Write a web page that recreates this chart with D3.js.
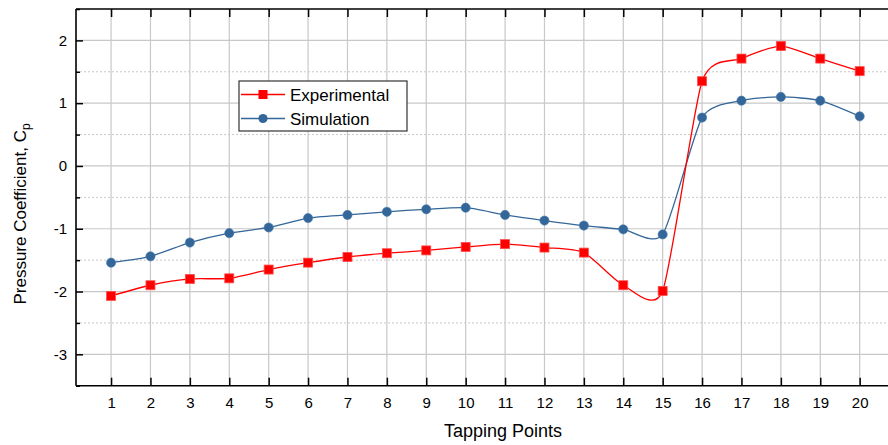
<!DOCTYPE html>
<html>
<head>
<meta charset="utf-8">
<script src="https://cdn.jsdelivr.net/npm/d3@7"></script>
<style>
  html, body { margin: 0; padding: 0; background: #fff; }
  svg { display: block; font-family: "Liberation Sans", Arial, sans-serif; }
</style>
</head>
<body>
<svg id="chart" width="888" height="445"></svg>
<script>
// Tapping point indices along the model surface
const tappingPoints = [1, 2, 3, 4, 5, 6, 7, 8, 9, 10, 11, 12, 13, 14, 15, 16, 17, 18, 19, 20];
// Measured pressure coefficients
const experimental = [-2.07, -1.90, -1.80, -1.79, -1.65, -1.54, -1.45, -1.39, -1.345, -1.29,
                      -1.245, -1.30, -1.38, -1.90, -1.99, 1.35, 1.71, 1.91, 1.71, 1.51];
// CFD pressure coefficients
const simulation = [-1.54, -1.44, -1.22, -1.07, -0.98, -0.83, -0.78, -0.73, -0.69, -0.665,
                    -0.78, -0.87, -0.95, -1.01, -1.09, 0.77, 1.04, 1.10, 1.04, 0.79];
const yTicks = [-3, -2, -1, 0, 1, 2];
const yMinor = [-3.5, -2.5, -1.5, -0.5, 0.5, 1.5, 2.5];

const svg = d3.select("#chart");
const plotLeft = 76, plotTop = 9, plotBottom = 385.7;

const x = d3.scaleLinear().domain([0.11, 20.9]).range([plotLeft, plotLeft + 20.79 * 39.4]);
const y = d3.scaleLinear().domain([-3.5, 2.5]).range([plotBottom, plotTop]);

const gridColor = "#c8c8c8";

// grid
const grid = svg.append("g");
grid.selectAll(".vg").data(tappingPoints).join("line")
  .attr("x1", d => x(d)).attr("x2", d => x(d))
  .attr("y1", plotTop).attr("y2", plotBottom)
  .attr("stroke", gridColor).attr("stroke-width", 1.2);
grid.selectAll(".hg").data(yTicks).join("line")
  .attr("x1", plotLeft).attr("x2", 888)
  .attr("y1", d => y(d)).attr("y2", d => y(d))
  .attr("stroke", gridColor).attr("stroke-width", 1.2);
grid.selectAll(".hm").data(yMinor.filter(v => v > -3.5 && v < 2.5)).join("line")
  .attr("x1", plotLeft).attr("x2", 888)
  .attr("y1", d => y(d)).attr("y2", d => y(d))
  .attr("stroke", gridColor).attr("stroke-width", 1)
  .attr("stroke-dasharray", "2,2");

// axes
const axisBottom = d3.axisBottom(x).tickValues(tappingPoints).tickSize(-8).tickPadding(12).tickFormat(d3.format("d"));
const axisTop = d3.axisTop(x).tickValues(tappingPoints).tickSize(-8).tickFormat("");
const axisLeft = d3.axisLeft(y).tickValues(yTicks).tickSize(-7).tickPadding(9).tickFormat(d => d);
const axisLeftMinor = d3.axisLeft(y).tickValues(yMinor).tickSize(-4).tickFormat("");

function styleAxis(g) {
  g.select(".domain").remove();
  g.selectAll(".tick line").attr("stroke", "#000").attr("stroke-width", 1.5);
  g.selectAll(".tick text").attr("fill", "#000").style("font-size", "15px")
    .style("font-family", '"Liberation Sans", Arial, sans-serif');
}

svg.append("g").attr("transform", `translate(0,${plotBottom})`).call(axisBottom).call(styleAxis);
svg.append("g").attr("transform", `translate(0,${plotTop})`).call(axisTop).call(styleAxis);
svg.append("g").attr("transform", `translate(${plotLeft},0)`).call(axisLeft).call(styleAxis);
svg.append("g").attr("transform", `translate(${plotLeft},0)`).call(axisLeftMinor).call(styleAxis);

// axis lines
svg.append("line").attr("x1", plotLeft).attr("x2", 888).attr("y1", plotBottom).attr("y2", plotBottom)
  .attr("stroke", "#000").attr("stroke-width", 1.6);
svg.append("line").attr("x1", plotLeft).attr("x2", 888).attr("y1", plotTop).attr("y2", plotTop)
  .attr("stroke", "#000").attr("stroke-width", 1.6);
svg.append("line").attr("x1", plotLeft).attr("x2", plotLeft).attr("y1", plotTop).attr("y2", plotBottom)
  .attr("stroke", "#000").attr("stroke-width", 1.6);

// axis titles
svg.append("text").attr("x", 503).attr("y", 437).attr("text-anchor", "middle")
  .style("font-size", "18px").attr("fill", "#000").text("Tapping Points");
const yt = svg.append("text").attr("transform", "translate(26,214) rotate(-90)")
  .attr("text-anchor", "middle").style("font-size", "17px").attr("fill", "#000");
yt.append("tspan").text("Pressure Coefficient, C");
yt.append("tspan").attr("dy", 4).style("font-size", "12px").text("p");

// series
const red = "#ff0000", blue = "#336699";
const line = d3.line().x((d, i) => x(tappingPoints[i])).y(d => y(d)).curve(d3.curveCardinal.tension(0.35));

const plot = svg.append("g");
plot.append("path").datum(simulation).attr("d", line)
  .attr("fill", "none").attr("stroke", blue).attr("stroke-width", 1.3);
plot.append("path").datum(experimental).attr("d", line)
  .attr("fill", "none").attr("stroke", red).attr("stroke-width", 1.3);

const sq = 9;
plot.selectAll(".sq").data(experimental).join("rect")
  .attr("x", (d, i) => x(tappingPoints[i]) - sq / 2)
  .attr("y", d => y(d) - sq / 2)
  .attr("width", sq).attr("height", sq)
  .attr("fill", red).attr("stroke", "#ff4d4d").attr("stroke-width", 0.8);
plot.selectAll(".ci").data(simulation).join("circle")
  .attr("cx", (d, i) => x(tappingPoints[i]))
  .attr("cy", d => y(d))
  .attr("r", 4.6)
  .attr("fill", blue).attr("stroke", "#4a7aab").attr("stroke-width", 0.6);

// legend
const lg = svg.append("g");
lg.append("rect").attr("x", 239).attr("y", 81).attr("width", 168).attr("height", 50)
  .attr("fill", "#fff").attr("stroke", "#333").attr("stroke-width", 1.2);
const entries = [
  { name: "Experimental", color: red, shape: "square", cy: 94.5 },
  { name: "Simulation", color: blue, shape: "circle", cy: 118.5 }
];
entries.forEach(e => {
  lg.append("line").attr("x1", 241).attr("x2", 285).attr("y1", e.cy).attr("y2", e.cy)
    .attr("stroke", e.color).attr("stroke-width", 1.3);
  if (e.shape === "square") {
    lg.append("rect").attr("x", 263 - sq / 2).attr("y", e.cy - sq / 2)
      .attr("width", sq).attr("height", sq).attr("fill", e.color);
  } else {
    lg.append("circle").attr("cx", 263).attr("cy", e.cy).attr("r", 4.6).attr("fill", e.color);
  }
  lg.append("text").attr("x", 290).attr("y", e.cy + 6)
    .style("font-size", "17px").attr("fill", "#000").text(e.name);
});
</script>
</body>
</html>
